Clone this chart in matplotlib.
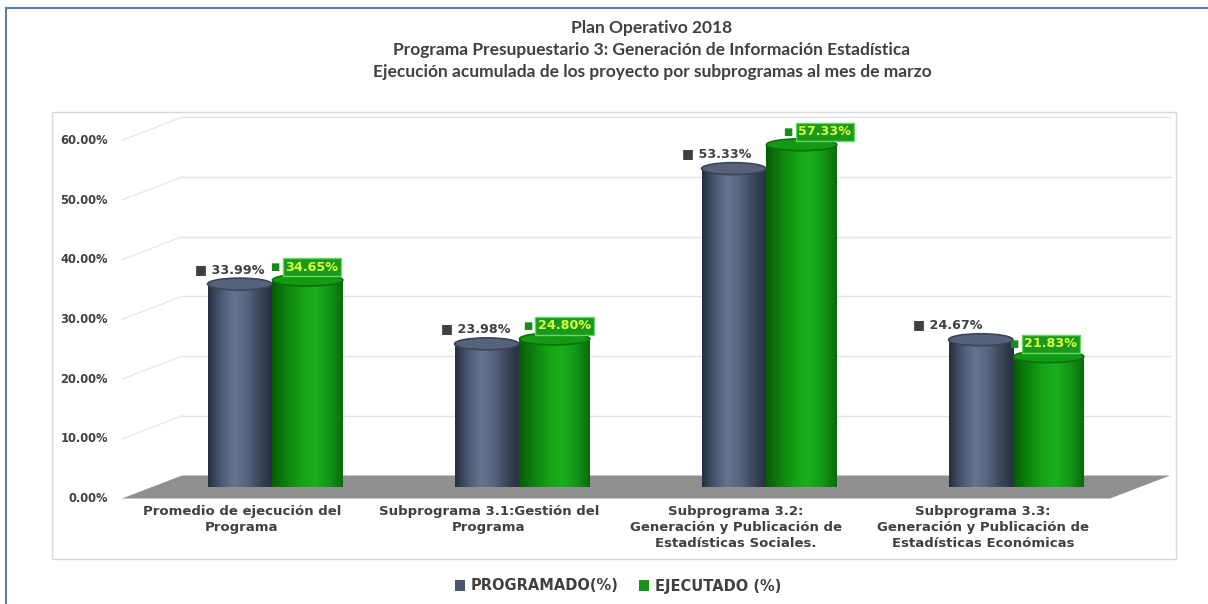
import matplotlib.pyplot as plt
import numpy as np
from matplotlib.colors import LinearSegmentedColormap
from matplotlib.patches import Ellipse, Polygon, Rectangle
from matplotlib.lines import Line2D
from matplotlib.transforms import IdentityTransform, offset_copy

# datos del grafico
categorias = ['Promedio de ejecución del\nPrograma',
              'Subprograma 3.1:Gestión del\nPrograma',
              'Subprograma 3.2:\nGeneración y Publicación de\nEstadísticas Sociales.',
              'Subprograma 3.3:\nGeneración y Publicación de\nEstadísticas Económicas']
programado = [33.99, 23.98, 53.33, 24.67]
ejecutado = [34.65, 24.80, 57.33, 21.83]
y_ticks = [0, 10, 20, 30, 40, 50, 60]
titulo = ['Plan Operativo 2018',
          'Programa Presupuestario 3: Generación de Información Estadística',
          'Ejecución acumulada de los proyecto por subprogramas al mes de marzo']
series = ['PROGRAMADO(%)', 'EJECUTADO (%)']

# desplazamiento de etiquetas (px) para evitar solapes, como en excel
dx_prog = [-10, -11, -17, -33]
dx_ejec = [4, 10, 23, 2]

W, H = 1208, 604
fig = plt.figure(figsize=(W / 100, H / 100), dpi=100)
fig.patch.set_facecolor('white')

ax = fig.add_axes([152 / W, (H - 487) / H, (1140 - 152) / W, 358.2 / H])
ax.set_xlim(-0.485, 3.515)
ax.set_ylim(0, 60)
ax.set_axis_off()

txt = '#404040'


def P(x, y, d):
    # d: -1 frente, 0 medio, 1 fondo (efecto 3d)
    px, py = ax.transData.transform((x, y))
    return (px + 30 * d, py + 11.5 * d)


xl, xr = ax.get_xlim()

# piso gris
piso = Polygon([P(xl, 0, -1), P(xl, 0, 1), P(xr, 0, 1), P(xr, 0, -1)],
               closed=True, transform=IdentityTransform(), fc='#8f8f8f', ec='none',
               zorder=1, clip_on=False)
ax.add_patch(piso)

# lineas de cuadricula (pared del fondo y lateral)
for t in y_ticks[1:]:
    a, b = P(xl, t, -1), P(xl, t, 1)
    c = P(xr, t, 1)
    ax.add_line(Line2D([a[0], b[0]], [a[1], b[1]], transform=IdentityTransform(),
                       color='#e8e8e8', lw=1, zorder=0.5, clip_on=False))
    ax.add_line(Line2D([b[0], c[0]], [b[1], c[1]], transform=IdentityTransform(),
                       color='#e3e3e3', lw=1, zorder=0.5, clip_on=False))

# etiquetas eje y en el plano frontal
tr_y = offset_copy(ax.transData, fig, x=-44, y=-11.5, units='dots')
for t in y_ticks:
    ax.text(xl, t, f'{t:.2f}%', transform=tr_y, ha='right', va='center',
            fontsize=8.3, fontweight='bold', color=txt)

x = np.arange(len(categorias))
w1, w2 = 0.26, 0.285
b1 = ax.bar(x - 0.13, programado, w1, color='#4a5670', zorder=3, label=series[0])
b2 = ax.bar(x + 0.145, ejecutado, w2, color='#17931a', zorder=3, label=series[1])

cm_gris = LinearSegmentedColormap.from_list('g', ['#262e3e', '#4b5872', '#66748f', '#56647e', '#3a4559', '#262e3d'])
cm_verde = LinearSegmentedColormap.from_list('v', ['#075a07', '#0d800d', '#15a015', '#1cb01c', '#13961a', '#0a6a0a'])
grad = np.linspace(0, 1, 256).reshape(1, -1)

eh = 2.0  # alto de la elipse en %
for barras, cm, cap, rim in [(b1, cm_gris, '#56627c', '#3b4558'), (b2, cm_verde, '#139a13', '#0c700c')]:
    for r in barras:
        x0, w, h = r.get_x(), r.get_width(), r.get_height()
        im = ax.imshow(grad, cmap=cm, extent=[x0, x0 + w, 0, h], aspect='auto',
                       zorder=3.1, interpolation='bicubic')
        im.set_clip_path(r)
        ax.add_patch(Ellipse((x0 + w / 2, 0), w, eh, fc=cm(0.4), ec='none', zorder=2.9))
        ax.add_patch(Ellipse((x0 + w / 2, h), w, eh, fc=cap, ec=rim, lw=1.2, zorder=3.3))
ax.set_xlim(xl, xr)
ax.set_ylim(0, 60)

# etiquetas de datos
for i in range(len(categorias)):
    v = programado[i]
    ax.annotate(f'■ {v:.2f}%', (x[i] - 0.13, v), xytext=(dx_prog[i] * 0.72, 15 * 0.72),
                textcoords='offset points', ha='center', va='center',
                fontsize=9.2, fontweight='bold', color=txt, zorder=5)
    v = ejecutado[i]
    ax.annotate(f'{v:.2f}%', (x[i] + 0.145, v), xytext=(dx_ejec[i] * 0.72, 13 * 0.72),
                textcoords='offset points', ha='center', va='center',
                fontsize=9.2, fontweight='bold', color='#d6ff3c', zorder=5,
                bbox=dict(boxstyle='square,pad=0.2', fc='#1c991c', ec='#62d862', lw=1))
    ax.annotate('■', (x[i] + 0.145, v), xytext=((dx_ejec[i] - 37) * 0.72, 13 * 0.72),
                textcoords='offset points', ha='center', va='center',
                fontsize=7, color='#1a8a1a', zorder=5)

# etiquetas de categorias
tr_x = offset_copy(ax.transData, fig, x=-30, y=-18, units='dots')
for i, c in enumerate(categorias):
    ax.text(x[i], 0, c, transform=tr_x, ha='center', va='top', fontsize=9.5,
            fontweight='bold', color=txt, linespacing=1.3)

# titulo
for k, linea in enumerate(titulo):
    fig.text(652 / W, 1 - (28 + 22 * k) / H, linea, ha='center', va='center',
             fontsize=12.5, fontweight='bold', color=txt, family='Lato')

fig.legend(handles=[b1, b2], loc='center', bbox_to_anchor=(618 / W, 1 - 586 / H), ncol=2,
           frameon=False, prop={'weight': 'bold', 'size': 10.5}, labelcolor=txt,
           handlelength=0.7, handleheight=0.7, handletextpad=0.4, columnspacing=1.4)

# marcos
fig.add_artist(Rectangle((52 / W, (H - 559) / H), (1176 - 52) / W, (559 - 112) / H,
                         transform=fig.transFigure, fill=False, ec='#d9d9d9', lw=1))
fig.add_artist(Line2D([6 / W, 6 / W], [0, 1 - 8 / H], transform=fig.transFigure,
                      color='#5b7ea6', lw=1.5))
fig.add_artist(Line2D([6 / W, 1], [1 - 8 / H, 1 - 8 / H], transform=fig.transFigure,
                      color='#5b7ea6', lw=1.5))

fig.savefig('out.png', dpi=100, facecolor='white')
